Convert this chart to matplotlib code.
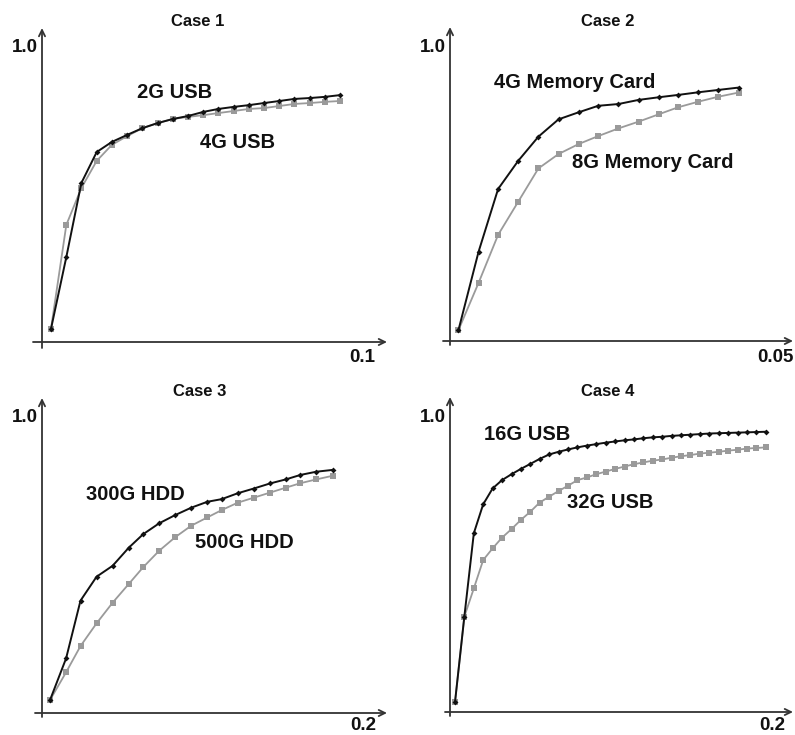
import matplotlib
matplotlib.use("Agg")
import matplotlib.pyplot as plt

plt.rcParams['font.family'] = ['Liberation Sans', 'DejaVu Sans']

W, H = 795, 735

# ---------------- data ----------------
case1_x = [0.0028, 0.0076, 0.0123, 0.0171, 0.0218, 0.0266, 0.0314, 0.0361, 0.0409,
           0.0456, 0.0504, 0.0551, 0.0599, 0.0647, 0.0694, 0.0742, 0.0789, 0.0837,
           0.0884, 0.0932]
case1_2g = [0.044, 0.288, 0.539, 0.644, 0.678, 0.702, 0.725, 0.742, 0.756, 0.766,
            0.780, 0.790, 0.797, 0.803, 0.810, 0.817, 0.824, 0.827, 0.831, 0.837]
case1_4g = [0.044, 0.397, 0.522, 0.614, 0.668, 0.698, 0.725, 0.742, 0.756, 0.763,
            0.769, 0.776, 0.783, 0.790, 0.793, 0.800, 0.807, 0.810, 0.814, 0.817]

case2_x = [0.0013, 0.0044, 0.0074, 0.0105, 0.0136, 0.0167, 0.0198, 0.0228, 0.0259,
           0.0290, 0.0321, 0.0351, 0.0382, 0.0413, 0.0444]
case2_4g = [0.037, 0.304, 0.517, 0.613, 0.695, 0.754, 0.778, 0.800, 0.806, 0.820,
            0.829, 0.837, 0.846, 0.854, 0.862]
case2_8g = [0.037, 0.198, 0.361, 0.474, 0.587, 0.636, 0.670, 0.697, 0.723, 0.746,
            0.771, 0.795, 0.814, 0.831, 0.845]

case3_x = [0.005, 0.015, 0.024, 0.034, 0.044, 0.054, 0.063, 0.073, 0.083, 0.093,
           0.103, 0.112, 0.122, 0.132, 0.142, 0.152, 0.161, 0.171, 0.181]
case3_300g = [0.044, 0.185, 0.381, 0.462, 0.499, 0.560, 0.606, 0.643, 0.671, 0.696,
              0.716, 0.725, 0.745, 0.761, 0.778, 0.792, 0.807, 0.818, 0.824]
case3_500g = [0.044, 0.138, 0.227, 0.304, 0.374, 0.437, 0.494, 0.550, 0.596, 0.635,
              0.663, 0.688, 0.713, 0.730, 0.747, 0.764, 0.779, 0.792, 0.804]

case4_x = [0.0031, 0.0089, 0.0148, 0.0206, 0.0265, 0.0323, 0.0382, 0.0440, 0.0499,
           0.0557, 0.0616, 0.0674, 0.0733, 0.0791, 0.0850, 0.0908, 0.0967, 0.1025,
           0.1084, 0.1142, 0.1201, 0.1259, 0.1318, 0.1376, 0.1435, 0.1493, 0.1552,
           0.1610, 0.1669, 0.1727, 0.1786, 0.1844, 0.1903, 0.1961]
case4_16g = [0.033, 0.323, 0.606, 0.704, 0.758, 0.786, 0.806, 0.824, 0.841, 0.858,
             0.873, 0.882, 0.890, 0.897, 0.903, 0.908, 0.913, 0.917, 0.921, 0.924,
             0.928, 0.931, 0.933, 0.936, 0.938, 0.940, 0.942, 0.944, 0.945, 0.946,
             0.947, 0.948, 0.949, 0.950]
case4_32g = [0.033, 0.323, 0.419, 0.515, 0.555, 0.591, 0.620, 0.651, 0.679, 0.710,
             0.730, 0.749, 0.767, 0.786, 0.795, 0.806, 0.815, 0.824, 0.832, 0.840,
             0.846, 0.852, 0.856, 0.862, 0.867, 0.871, 0.876, 0.879, 0.882, 0.886,
             0.889, 0.893, 0.895, 0.897]

titles = ["Case 1", "Case 2", "Case 3", "Case 4"]
series_names = [("2G USB", "4G USB"), ("4G Memory Card", "8G Memory Card"),
                ("300G HDD", "500G HDD"), ("16G USB", "32G USB")]
x_max_labels = ["0.1", "0.05", "0.2", "0.2"]
x_max_values = [0.1, 0.05, 0.2, 0.2]
y_top_label = "1.0"

# ---------------- layout (pixel geometry) ----------------
# (x0px, xmax_px, y0px, y1px, axis x start, axis x tip, axis y bottom, axis y tip)
geom = [
    (42, 362, 342, 47, 33, 387, 348, 28),
    (450, 775, 341, 47, 443, 793, 345, 27),
    (42, 363, 713, 418, 35, 387, 717, 398),
    (450, 772, 712, 417, 445, 793, 716, 397),
]
title_pos = [(198, 22), (608, 21), (200, 392), (608, 392)]
label_pos = [((175, 92), (237, 143)), ((575, 83), (653, 163)),
             ((135, 495), (244, 542)), ((527, 435), (610, 503))]
xlab_pos = [(362, 358), (775, 357), (363, 726), (772, 726)]

data = [(case1_x, case1_2g, case1_4g), (case2_x, case2_4g, case2_8g),
        (case3_x, case3_300g, case3_500g), (case4_x, case4_16g, case4_32g)]

fig = plt.figure(figsize=(W / 100, H / 100), dpi=100)


def fpos(px, py):
    return px / W, 1 - py / H


for i in range(4):
    x0, xe, y0, y1, axs, axt, ayb, ayt = geom[i]
    xmax = x_max_values[i]
    left, right = x0 - 30, x0 + 350
    top, bottom = y1 - 35, y0 + 15
    ax = fig.add_axes([left / W, 1 - bottom / H, (right - left) / W, (bottom - top) / H])
    sx = xmax / (xe - x0)
    sy = 1.0 / (y0 - y1)
    ax.set_xlim((left - x0) * sx, (right - x0) * sx)
    ax.set_ylim((y0 - bottom) * sy, (y0 - top) * sy)
    ax.set_axis_off()

    def dx(px):
        return (px - x0) * sx

    def dy(py):
        return (y0 - py) * sy

    arrow = dict(arrowstyle="->,head_length=0.45,head_width=0.22", color="#333333",
                 lw=1.3, shrinkA=0, shrinkB=0)
    ax.annotate("", xy=(dx(axt), 0), xytext=(dx(axs), 0), arrowprops=arrow,
                annotation_clip=False)
    ax.annotate("", xy=(0, dy(ayt)), xytext=(0, dy(ayb)), arrowprops=arrow,
                annotation_clip=False)

    xs, ya, yb = data[i]
    ax.plot(xs, yb, color="#9a9a9a", lw=1.3, marker="s", markersize=4.2,
            markeredgewidth=0, clip_on=False, zorder=2)
    ax.plot(xs, ya, color="#111111", lw=1.4, marker="D", markersize=3.0,
            markeredgewidth=0, clip_on=False, zorder=3)

    # texts
    fig.text(*fpos(*title_pos[i]), titles[i], ha="center", va="center",
             fontsize=12, fontweight="bold", color="#111111")
    fig.text(*fpos(x0 - 4, y1), y_top_label, ha="right", va="center",
             fontsize=13.5, fontweight="bold", color="#111111")
    fig.text(*fpos(*xlab_pos[i]), x_max_labels[i], ha="center", va="center",
             fontsize=13.5, fontweight="bold", color="#111111")
    for name, pos in zip(series_names[i], label_pos[i]):
        fig.text(*fpos(*pos), name, ha="center", va="center",
                 fontsize=14.5, fontweight="bold", color="#111111")

fig.savefig("out.png", dpi=100, facecolor="white")
